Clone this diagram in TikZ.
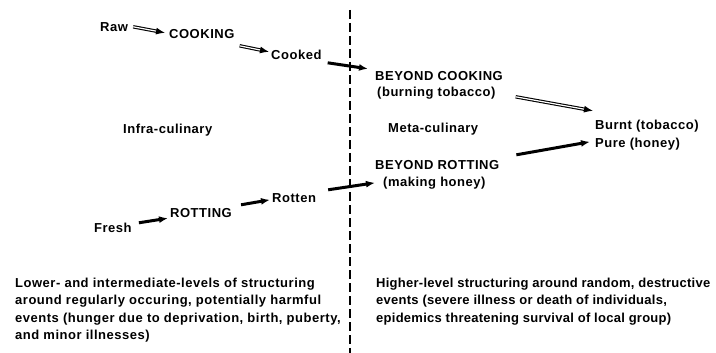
\documentclass[tikz,border=0pt]{standalone}
\usepackage{fontspec}
\setmainfont[LetterSpace=4]{Liberation Sans}
\usepackage{tikz}
\usepackage{xcolor}
\usetikzlibrary{arrows.meta, calc, positioning}
\tikzset{
  % label style
  lbl/.style={
    font=\fontsize{13}{17.3}\selectfont\bfseries
    , inner sep=0pt
    , text height=9pt
    , text depth=2.6pt
    , anchor=base west
  },
  % long text block
  blk/.style={
    lbl
    , align=left
    , text height=
    , text depth=
    , anchor=north west
  },
  % heavy arrow
  harr/.style={
    line width=3pt
    , -{Latex[length=9pt,width=7pt]}
  },
  % hollow (double) arrow
  darr/.style={
    double
    , double distance=1.2pt
    , line width=1.1pt
    , -{Latex[length=9pt,width=7pt]}
  },
}
\begin{document}
\begin{tikzpicture}[x=1pt,y=-1pt]
      \useasboundingbox (0,0) rectangle (716,353);

      % divider
      \coordinate (top) at (350,10);
      \coordinate (bot) at (350,353);
      \draw[line width=1.1pt, dash pattern=on 9pt off 4pt] (top) -- (bot);

      % infra-culinary side
      \node[lbl] (raw) at (100,32) {Raw};
      \node[lbl] (cook) at (169,39) {COOKING};
      \node[lbl] (cooked) at (271,60) {Cooked};
      \node[lbl] (infra) at (123,134) {Infra-culinary};
      \node[lbl] (fresh) at (94,232) {Fresh};
      \node[lbl] (rot) at (170,217) {ROTTING};
      \node[lbl] (rotten) at (272,203) {Rotten};

      % meta-culinary side
      \node[lbl] (bc) at (375,81) {BEYOND COOKING};
      \node[lbl] (bt) at (377,97) {(burning tobacco)};
      \node[lbl] (meta) at (388,133) {Meta-culinary};
      \node[lbl] (br) at (375,169) {BEYOND ROTTING};
      \node[lbl] (mh) at (383,186) {(making honey)};
      \node[lbl] (burnt) at (595,129) {Burnt (tobacco)};
      \node[lbl] (pure) at (595,148) {Pure (honey)};

      % bottom notes
      \node[blk] (lower) at (15,278) {Lower- and intermediate-levels of structuring\\
        around regularly occuring, potentially harmful\\
        events (hunger due to deprivation, birth, puberty,\\
        and minor illnesses)};
      \node[blk, font=\fontsize{13}{17.3}\selectfont\bfseries\addfontfeatures{LetterSpace=2}] (higher) at (376,278) {Higher-level structuring around random, destructive\\
        events (severe illness or death of individuals,\\
        epidemics threatening survival of local group)};

      % arrows
      \draw[darr] ([xshift=5pt,yshift=2pt]raw.east) -- ([xshift=-4pt,yshift=3pt]cook.west);
      \draw[darr] ([xshift=5pt,yshift=-4pt]cook.south east) -- ([xshift=-2pt,yshift=5pt]cooked.west);
      \draw[harr] ([xshift=6pt]cooked.south east) -- ([xshift=-7pt,yshift=3pt]bc.north west);
      \draw[darr] ([xshift=20pt,yshift=-3pt]bt.east) -- ([xshift=-2pt,yshift=9pt]burnt.north west);

      \draw[harr] ([xshift=7pt]fresh.north east) -- ([xshift=-2pt,yshift=1.6pt]rot.south west);
      \draw[harr] ([xshift=9pt,yshift=3pt]rot.north east) -- ([xshift=-2pt]rotten.west);
      \draw[harr] ([xshift=12pt,yshift=4pt]rotten.north east) -- ([xshift=-8pt]mh.west);
      \draw[harr] ([xshift=17pt,yshift=5pt]br.north east) -- ([xshift=-5pt,yshift=3pt]pure.west);
    \end{tikzpicture}
\end{document}
